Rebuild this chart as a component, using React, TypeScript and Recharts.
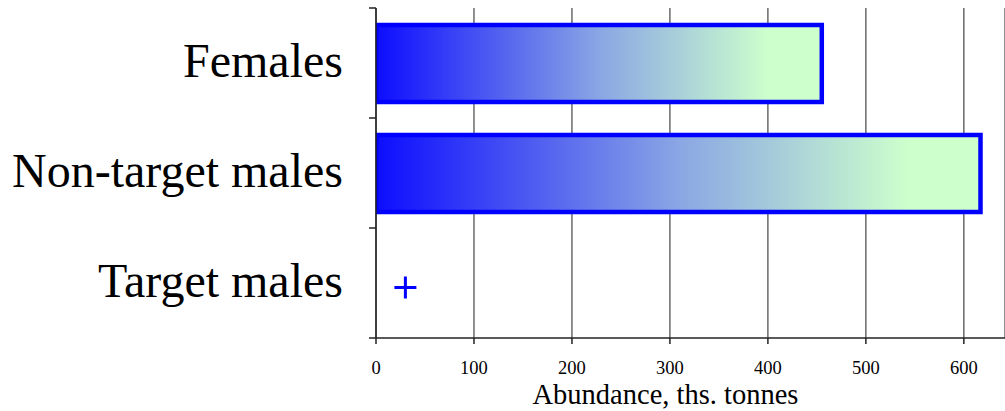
import React from 'react';
import { ComposedChart, Bar, XAxis, YAxis, CartesianGrid } from 'recharts';

const categories = ['Females', 'Non-target males', 'Target males'];
const abundance = [455, 617, 30];
const markKinds = ['bar', 'bar', 'cross'];
const xTicks = [0, 100, 200, 300, 400, 500, 600];
const xDomainMax = 642;

const data = categories.map((c, i) => ({ name: c, value: abundance[i], kind: markKinds[i] }));

const FONT = '"Liberation Serif", "Times New Roman", serif';

const BarShape = (props: any) => {
  const { x, y, width, height, payload } = props;
  if (payload.kind === 'cross') {
    const cx = x + width;
    const cy = y + height / 2 + 4;
    const r = 11;
    return (
      <g stroke="#0000ff" strokeWidth={3}>
        <line x1={cx - r} y1={cy} x2={cx + r} y2={cy} />
        <line x1={cx} y1={cy - r} x2={cx} y2={cy + r} />
      </g>
    );
  }
  return (
    <rect x={x} y={y} width={width} height={height} fill="url(#barGrad)" stroke="#0000ff" strokeWidth={4.5} />
  );
};

const YTick = (props: any) => {
  const { x, y, payload, index, visibleTicksCount } = props;
  const off = payload && typeof payload.offset === 'number' ? payload.offset : 0;
  const isLast = index === (visibleTicksCount ?? 3) - 1;
  return (
    <g>
      <text x={x} y={y} dy={14} textAnchor="end" fontFamily={FONT} fontSize={48} fill="#000">
        {payload.value}
      </text>
      <line x1={x + 26} x2={x + 33} y1={y - off} y2={y - off} stroke="#222" strokeWidth={1.5} />
      {isLast && <line x1={x + 26} x2={x + 33} y1={y + off} y2={y + off} stroke="#222" strokeWidth={1.5} />}
    </g>
  );
};

const XLabel = (props: any) => {
  const vb = props.viewBox || {};
  return (
    <text
      x={vb.x + vb.width / 2 - 25}
      y={404}
      textAnchor="middle"
      fontFamily={FONT}
      fontSize={28.5}
      fill="#000"
    >
      Abundance, ths. tonnes
    </text>
  );
};

export default function App() {
  return (
    <div style={{ position: 'absolute', left: 0, top: 0, background: '#fff' }}>
      <ComposedChart
        width={1005}
        height={411}
        data={data}
        layout="vertical"
        margin={{ top: 8, right: 0, bottom: 0, left: 0 }}
      >
        <defs>
          <linearGradient id="barGrad" x1="0" y1="0" x2="1" y2="0">
            <stop offset="0" stopColor="#0d0dff" />
            <stop offset="0.5" stopColor="#8aa6e4" />
            <stop offset="0.88" stopColor="#ccffcc" />
            <stop offset="1" stopColor="#ccffcc" />
          </linearGradient>
        </defs>
        <CartesianGrid horizontal={false} vertical={true} stroke="#444" strokeWidth={1.2} />
        <XAxis
          type="number"
          domain={[0, xDomainMax]}
          ticks={xTicks}
          allowDataOverflow
          height={73}
          tickSize={6}
          tickMargin={17}
          axisLine={{ stroke: '#222', strokeWidth: 1.5 }}
          tickLine={{ stroke: '#222', strokeWidth: 1.5 }}
          tick={{ fontFamily: FONT, fontSize: 18.5, fill: '#000' }}
          label={<XLabel />}
        />
        <YAxis
          type="category"
          dataKey="name"
          width={376}
          tickSize={7}
          tickMargin={26}
          tickLine={false}
          axisLine={{ stroke: '#222', strokeWidth: 1.5 }}
          tick={<YTick />}
          interval={0}
        />
        <Bar dataKey="value" barSize={77} shape={<BarShape />} isAnimationActive={false} />
      </ComposedChart>
    </div>
  );
}
